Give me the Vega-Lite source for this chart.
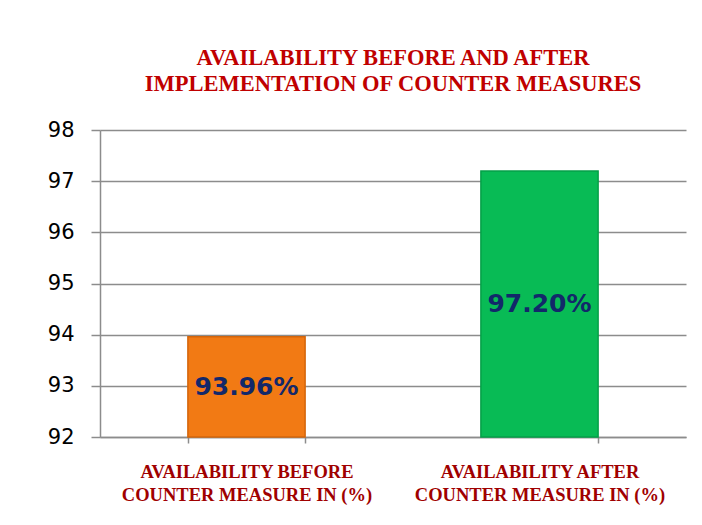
{
  "$schema": "https://vega.github.io/schema/vega-lite/v6.json",
  "width": 586,
  "height": 307,
  "autosize": {"type": "none"},
  "padding": {"left": 100, "top": 130, "right": 16, "bottom": 88},
  "background": "white",
  "config": {"view": {"stroke": null}},
  "title": {
    "text": ["AVAILABILITY BEFORE AND AFTER", "IMPLEMENTATION  OF COUNTER MEASURES"],
    "font": "Liberation Serif",
    "fontSize": 22.5,
    "fontWeight": "bold",
    "color": "#C00000",
    "lineHeight": 26,
    "anchor": "middle",
    "offset": 24
  },
  "data": {
    "values": [
      {"category": "AVAILABILITY BEFORE|COUNTER MEASURE IN (%)", "value": 93.96, "label": "93.96%", "group": "before"},
      {"category": "AVAILABILITY AFTER|COUNTER MEASURE IN (%)", "value": 97.2, "label": "97.20%", "group": "after"}
    ]
  },
  "transform": [{"calculate": "(92 + datum.value) / 2", "as": "mid"}],
  "encoding": {
    "x": {
      "field": "category",
      "type": "nominal",
      "sort": null,
      "scale": {"paddingInner": 0.6, "paddingOuter": 0.3},
      "axis": {
        "title": null,
        "labelAngle": 0,
        "labelLimit": 0,
        "labelExpr": "split(datum.label, '|')",
        "labelFont": "Liberation Serif",
        "labelFontWeight": "bold",
        "labelFontSize": 18.5,
        "labelColor": "#A00000",
        "labelLineHeight": 23,
        "labelPadding": 19,
        "tickBand": "extent",
        "tickSize": 6,
        "tickColor": "#8c8c8c",
        "tickWidth": 1.5,
        "domainColor": "#8c8c8c",
        "domainWidth": 1.5,
        "grid": false
      }
    }
  },
  "layer": [
    {
      "mark": {"type": "bar", "strokeWidth": 1.5},
      "encoding": {
        "y": {
          "field": "value",
          "type": "quantitative",
          "scale": {"domain": [92, 98], "nice": false, "zero": false},
          "axis": {
            "title": null,
            "values": [92, 93, 94, 95, 96, 97, 98],
            "labelFont": "DejaVu Sans",
            "labelFontSize": 21,
            "labelColor": "#000000",
            "labelPadding": 17,
            "tickSize": 9,
            "tickColor": "#8c8c8c",
            "tickWidth": 1.5,
            "domainColor": "#8c8c8c",
            "domainWidth": 1.5,
            "gridColor": "#8c8c8c",
            "gridWidth": 1.5
          }
        },
        "y2": {"datum": 92},
        "color": {
          "field": "group",
          "type": "nominal",
          "scale": {"domain": ["before", "after"], "range": ["#F27A14", "#08BB55"]},
          "legend": null
        },
        "stroke": {
          "field": "group",
          "type": "nominal",
          "scale": {"domain": ["before", "after"], "range": ["#D4650A", "#05A048"]},
          "legend": null
        }
      }
    },
    {
      "mark": {"type": "text", "font": "DejaVu Sans", "fontWeight": "bold", "fontSize": 25, "color": "#12286A", "baseline": "middle"},
      "encoding": {
        "y": {"field": "mid", "type": "quantitative"},
        "text": {"field": "label"}
      }
    }
  ]
}
